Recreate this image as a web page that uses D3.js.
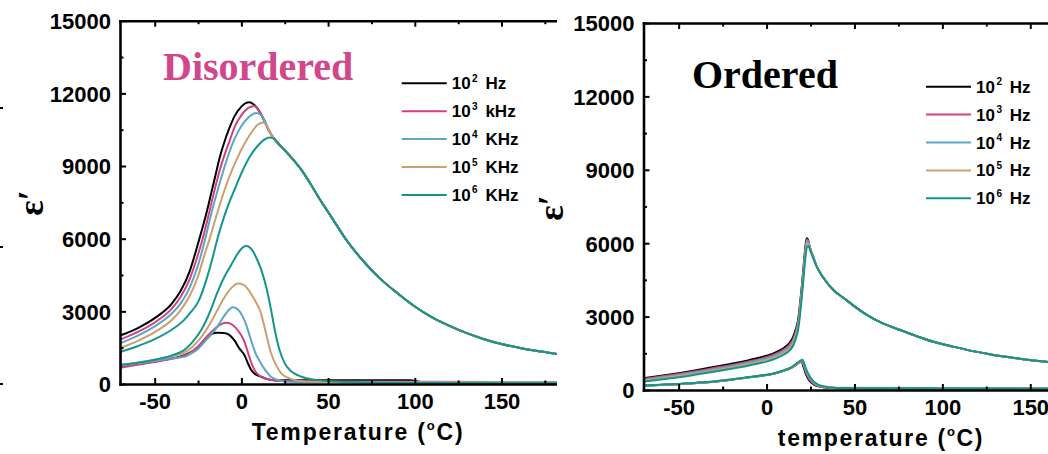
<!DOCTYPE html>
<html><head><meta charset="utf-8">
<script src="https://cdn.jsdelivr.net/npm/d3@7"></script>
<style>body{margin:0;background:#fff}svg{display:block}</style>
</head><body><svg id="c" width="1048" height="454"></svg>
<script>
// ---------------- DATA ----------------
const seriesColors = ["#000000", "#d2417f", "#5aa6c8", "#cc9f6c", "#14958a"];
const exponents = ["2", "3", "4", "5", "6"];
const unitsDisordered = ["Hz", "kHz", "KHz", "KHz", "KHz"];
const unitsOrdered = ["Hz", "Hz", "Hz", "Hz", "Hz"];
const xTicks = [-50, 0, 50, 100, 150];
const xMinorTicks = [-25, 25, 75, 125, 175];
const yTicks = [0, 3000, 6000, 9000, 12000, 15000];
const yMinorTicks = [1500, 4500, 7500, 10500, 13500];

// Disordered, upper (large) family: common tail read once
const disUpperTail = [[30,9250],[35,8800],[40,8250],[45,7650],[50,7100],[55,6550],[60,6000],[70,5100],[80,4350],[90,3750],[100,3200],[110,2750],[120,2400],[130,2100],[140,1850],[150,1650],[160,1500],[170,1370],[182,1240]];
const disUp1e2 = [[-70,2000],[-60,2300],[-50,2720],[-40,3330],[-35,3850],[-30,4620],[-25,5800],[-20,7100],[-17,8000],[-15,8600],[-12.5,9350],[-10,9950],[-7,10550],[-4,11050],[0,11450],[2.5,11600],[4.5,11630],[7,11550],[9,11400],[12,11050],[16,10450],[20,10020],[25,9650]];
const disUp1e3 = [[-70,1830],[-60,2140],[-50,2540],[-40,3120],[-35,3600],[-30,4300],[-25,5350],[-22.5,5950],[-20,6650],[-15.5,8000],[-12,8950],[-10,9400],[-7,10000],[-4,10600],[0,11100],[4,11400],[7.5,11480],[10,11300],[12,11050],[16,10450],[20,10020],[25,9650]];
const disUp1e4 = [[-70,1680],[-60,1990],[-50,2380],[-40,2920],[-35,3330],[-30,3950],[-25,4900],[-21,5950],[-17.5,7000],[-13.7,8000],[-10,8900],[-8,9350],[-5,9950],[-2,10400],[0,10650],[4,11000],[8.5,11190],[11,11120],[12.5,11000],[16,10450],[20,10020],[25,9650]];
const disUp1e5 = [[-70,1480],[-60,1770],[-50,2140],[-40,2650],[-35,3050],[-30,3620],[-28,3920],[-25,4450],[-21,5400],[-18.5,5950],[-15,6800],[-10,7950],[-5,8900],[-2,9380],[0,9680],[5,10300],[9,10680],[12.5,10800],[15,10620],[17,10330],[20,10020],[25,9650]];
const disUp1e6 = [[-70,1320],[-60,1560],[-50,1850],[-40,2250],[-33,2650],[-30,2900],[-25,3380],[-23.5,3620],[-20,4350],[-17,5100],[-14,5950],[-10,6900],[-7,7500],[-4,8020],[0,8700],[5,9400],[10,9880],[13,10080],[16,10180],[19,10120],[22,9880],[25,9650]];

// Disordered, lower (small) family
const disLo1e2 = [[-70,720],[-60,820],[-50,930],[-40,1060],[-35,1140],[-30,1280],[-25,1520],[-20,1870],[-17,2070],[-14,2120],[-10,2110],[-7,2030],[-4,1800],[-1,1450],[1.7,1200],[3.5,900],[5.5,600],[8,400],[11.3,300],[15,200],[20,140],[30,160],[50,160],[80,160],[97,150],[105,70],[182,50]];
const disLo1e3 = [[-70,670],[-60,790],[-50,910],[-40,1040],[-35,1120],[-30,1270],[-25,1550],[-20,1950],[-15,2300],[-12,2460],[-9,2530],[-6,2480],[-3,2300],[0,2000],[2,1700],[4,1250],[6,820],[8,530],[11,320],[15,200],[20,140],[30,110],[60,100],[182,80]];
const disLo1e4 = [[-70,760],[-60,850],[-50,950],[-40,1060],[-33,1120],[-30,1220],[-25,1450],[-20,1850],[-15,2250],[-10,2800],[-7,3080],[-5,3170],[-2,3080],[1,2750],[3,2400],[5.5,1820],[8,1300],[11.3,850],[14,550],[17,300],[20,190],[25,100],[30,80],[182,70]];
const disLo1e5 = [[-70,780],[-60,880],[-50,1000],[-40,1150],[-33,1300],[-28,1550],[-23,1950],[-18,2500],[-14,3030],[-10,3550],[-6,3950],[-2,4150],[1,4100],[4,3900],[7,3550],[11.3,2920],[14,2150],[17,1300],[20,780],[23,440],[27,250],[31,160],[40,100],[60,70],[182,60]];
const disLo1e6 = [[-70,800],[-60,880],[-50,1000],[-40,1180],[-33,1400],[-28,1750],[-23,2250],[-18,3000],[-14,3750],[-10,4400],[-6,4900],[-2,5400],[1,5650],[3,5700],[6,5550],[9,5150],[12,4600],[14.5,3950],[17,3100],[19.5,2150],[22,1400],[25,850],[28,570],[31,420],[37.5,240],[44,160],[55,100],[80,50],[182,30]];

// Ordered, upper family: common tail
const ordUpperTail = [[28.5,5050],[32,4620],[38,4090],[45,3700],[50,3420],[57,3070],[65,2760],[76,2450],[85,2210],[95,1970],[105,1790],[114,1640],[125,1490],[133,1390],[145,1270],[158,1160],[170,1080],[180,1010]];
const ordUp1e2 = [[-70,480],[-60,580],[-50,690],[-40,810],[-30,940],[-20,1070],[-10,1220],[0,1400],[5,1530],[10,1730],[13,1920],[15,2150],[16.5,2450],[18,2900],[19,3500],[20,4200],[21,5000],[22,5800],[22.8,6200],[23.5,6150],[24.5,5850],[26.5,5450]];
const ordUp1e3 = [[-70,450],[-60,550],[-50,655],[-40,770],[-30,895],[-20,1020],[-10,1170],[0,1340],[5,1470],[10,1660],[13,1840],[15,2060],[16.5,2350],[18,2800],[19,3400],[20,4100],[21,4900],[22,5700],[22.9,6150],[23.6,6100],[24.5,5850],[26.5,5450]];
const ordUp1e4 = [[-70,420],[-60,515],[-50,615],[-40,730],[-30,850],[-20,975],[-10,1120],[0,1290],[5,1410],[10,1600],[13,1770],[15,1980],[16.5,2260],[18,2700],[19,3300],[20,4000],[21,4800],[22,5600],[23,6100],[23.7,6050],[24.6,5820],[26.5,5450]];
const ordUp1e5 = [[-70,380],[-60,475],[-50,570],[-40,680],[-30,800],[-20,925],[-10,1065],[0,1230],[5,1350],[10,1530],[13,1700],[15,1900],[16.5,2170],[18,2600],[19,3200],[20,3900],[21,4700],[22,5500],[23,6000],[23.8,5980],[24.7,5780],[26.5,5430]];
const ordUp1e6 = [[-70,340],[-60,430],[-50,520],[-40,630],[-30,745],[-20,870],[-10,1005],[0,1160],[5,1280],[10,1450],[13,1610],[15,1800],[16.5,2070],[18,2480],[19,3050],[20,3750],[21,4550],[22,5350],[23,5850],[23.9,5900],[24.8,5720],[26.5,5400]];

// Ordered, lower family
const ordLo1e2 = [[-70,170],[-55,220],[-40,285],[-30,340],[-20,420],[-10,520],[0,610],[5,680],[10,790],[14,900],[17,1040],[19,1140],[20,1150],[21,950],[22,720],[23.5,480],[25,330],[27,220],[30,140],[35,90],[45,70],[180,60]];
const ordLo1e3 = [[-70,170],[-55,220],[-40,285],[-30,340],[-20,420],[-10,520],[0,610],[5,680],[10,790],[14,905],[17,1050],[19,1150],[20.2,1170],[21.2,980],[22.3,740],[23.8,500],[25.5,340],[27.5,225],[30.5,145],[36,95],[45,70],[180,60]];
const ordLo1e4 = [[-70,170],[-55,220],[-40,285],[-30,340],[-20,420],[-10,520],[0,615],[5,685],[10,795],[14,910],[17,1060],[19,1160],[20.4,1190],[21.4,1000],[22.6,770],[24.2,520],[26,350],[28,230],[31,150],[37,95],[45,70],[180,60]];
const ordLo1e5 = [[-70,175],[-55,225],[-40,290],[-30,345],[-20,425],[-10,525],[0,620],[5,690],[10,800],[14,915],[17,1070],[19,1170],[20.6,1200],[22,900],[24,600],[26,380],[29,220],[33,130],[40,90],[180,60]];
const ordLo1e6 = [[-70,180],[-55,230],[-40,295],[-30,350],[-20,430],[-10,530],[0,625],[5,695],[10,810],[14,925],[17,1080],[19,1190],[20.5,1240],[22,950],[24,620],[26,400],[29,230],[33,140],[40,80],[180,50]];

// ---------------- DRAW ----------------
const svg = d3.select("#c");
svg.append("rect").attr("width",1048).attr("height",454).attr("fill","#fff");
const FONT = "'Liberation Sans', Arial, sans-serif";
const SERIF = "'Liberation Serif', 'Times New Roman', serif";
const plainNum = d => String(d);

function panel(cfg) {
  const x = d3.scaleLinear().domain(cfg.xDomain).range(cfg.xRange);
  const y = d3.scaleLinear().domain([0, 15000]).range(cfg.yRange);
  const g = svg.append("g");
  const clipId = "clip" + cfg.id;
  svg.append("clipPath").attr("id", clipId).append("rect")
    .attr("x", cfg.xRange[0]).attr("y", cfg.yRange[1]-2)
    .attr("width", cfg.clipRight - cfg.xRange[0]).attr("height", cfg.yRange[0]-cfg.yRange[1]+4);
  const plot = g.append("g").attr("clip-path", `url(#${clipId})`);
  const line = d3.line().x(d => x(d[0])).y(d => y(d[1])).curve(d3.curveMonotoneX);
  const all = cfg.lower.concat(cfg.upper);
  const cols = seriesColors.concat(seriesColors);
  all.forEach((s, i) => {
    plot.append("path").attr("d", line(s)).attr("fill","none")
      .attr("stroke", cols[i]).attr("stroke-width", 2).attr("stroke-linejoin","round");
  });

  const axG = g.append("g").attr("clip-path", `url(#${clipId}b)`);
  svg.append("clipPath").attr("id", clipId + "b").append("rect")
    .attr("x", cfg.xRange[0]-60).attr("y", 0)
    .attr("width", cfg.clipRight - cfg.xRange[0] + 60).attr("height", 454);

  function styleAxis(sel, fs) {
    sel.selectAll(".domain").attr("stroke","#000").attr("stroke-width",2.6).attr("stroke-linecap","square");
    sel.selectAll(".tick line").attr("stroke","#000").attr("stroke-width",2);
    sel.selectAll("text").attr("font-family",FONT).attr("font-weight","bold").attr("font-size",fs).attr("fill","#000");
  }
  // bottom
  const b = axG.append("g").attr("transform",`translate(0,${cfg.yRange[0]})`)
    .call(d3.axisBottom(x).tickValues(xTicks).tickSizeInner(-6).tickSizeOuter(0).tickPadding(9.5).tickFormat(plainNum));
  styleAxis(b, 22);
  const bm = axG.append("g").attr("transform",`translate(0,${cfg.yRange[0]})`)
    .call(d3.axisBottom(x).tickValues(xMinorTicks).tickSizeInner(-3.5).tickSizeOuter(0).tickFormat(""));
  styleAxis(bm, 22); bm.select(".domain").remove();
  // top
  const t = axG.append("g").attr("transform",`translate(0,${cfg.yRange[1]})`)
    .call(d3.axisTop(x).tickValues(xTicks).tickSizeInner(-6).tickSizeOuter(0).tickFormat(""));
  styleAxis(t, 22);
  const tm = axG.append("g").attr("transform",`translate(0,${cfg.yRange[1]})`)
    .call(d3.axisTop(x).tickValues(xMinorTicks).tickSizeInner(-3.5).tickSizeOuter(0).tickFormat(""));
  styleAxis(tm, 22); tm.select(".domain").remove();
  // left
  const l = g.append("g").attr("transform",`translate(${cfg.xRange[0]},0)`)
    .call(d3.axisLeft(y).tickValues(yTicks).tickSizeInner(-6).tickSizeOuter(0).tickPadding(9).tickFormat(plainNum));
  styleAxis(l, 22);
  l.selectAll("text").attr("dy","0.36em");
  const lm = g.append("g").attr("transform",`translate(${cfg.xRange[0]},0)`)
    .call(d3.axisLeft(y).tickValues(yMinorTicks).tickSizeInner(-3.5).tickSizeOuter(0).tickFormat(""));
  styleAxis(lm, 22); lm.select(".domain").remove();

  // x label
  const xl = g.append("text").attr("x", cfg.xLabelX).attr("y", cfg.yRange[0] + 56)
    .attr("text-anchor","middle").attr("font-family",FONT).attr("font-weight","bold")
    .attr("font-size",23).attr("letter-spacing",cfg.ls).attr("fill","#000");
  xl.append("tspan").text(cfg.xLabel + " (");
  xl.append("tspan").attr("font-size",13).attr("dy",-10).text("o");
  xl.append("tspan").attr("dy",10).text("C)");

  // y label
  g.append("text").attr("transform",`translate(${cfg.yLabelX},${cfg.yLabelY}) rotate(-90)`)
    .attr("text-anchor","middle").attr("font-family",SERIF).attr("font-weight","bold").attr("font-size",36).attr("fill","#000")
    .text("\u03b5\u2032");

  // title
  g.append("text").attr("x", cfg.titleX).attr("y", cfg.titleY)
    .attr("font-family",SERIF).attr("font-weight","bold").attr("font-size",40)
    .attr("fill",cfg.titleColor).text(cfg.title);

  // legend
  const lg = g.append("g");
  exponents.forEach((e, i) => {
    const yy = cfg.legY + i * cfg.legStep;
    lg.append("line").attr("x1",cfg.legX).attr("x2",cfg.legX+45).attr("y1",yy).attr("y2",yy)
      .attr("stroke",seriesColors[i]).attr("stroke-width",2);
    const tx = lg.append("text").attr("x",cfg.legX+50).attr("y",yy+6)
      .attr("font-family",FONT).attr("font-weight","bold").attr("font-size",17).attr("fill","#000");
    tx.append("tspan").text("10");
    tx.append("tspan").attr("font-size",10).attr("dy",-7.5).attr("dx",1.5).text(e);
    tx.append("tspan").attr("dy",7.5).attr("dx",3).text(" " + cfg.units[i]);
  });
}

panel({
  id: "L", xDomain: [-70, 182], xRange: [120, 557], yRange: [384, 20.7], clipRight: 557,
  upper: [disUp1e2.concat(disUpperTail), disUp1e3.concat(disUpperTail), disUp1e4.concat(disUpperTail), disUp1e5.concat(disUpperTail), disUp1e6.concat(disUpperTail)],
  lower: [disLo1e2, disLo1e3, disLo1e4, disLo1e5, disLo1e6],
  xLabel: "Temperature", xLabelX: 358, ls: 1.8,
  yLabelX: 43, yLabelY: 203,
  title: "Disordered", titleX: 163, titleY: 80, titleColor: "#d0478b",
  legX: 401.7, legY: 83.3, legStep: 27.9, units: unitsDisordered
});
panel({
  id: "R", xDomain: [-70, 180], xRange: [643.5, 1083], yRange: [390, 23], clipRight: 1048,
  upper: [ordUp1e2.concat(ordUpperTail), ordUp1e3.concat(ordUpperTail), ordUp1e4.concat(ordUpperTail), ordUp1e5.concat(ordUpperTail), ordUp1e6.concat(ordUpperTail)],
  lower: [ordLo1e2, ordLo1e3, ordLo1e4, ordLo1e5, ordLo1e6],
  xLabel: "temperature", xLabelX: 881, ls: 1.7,
  yLabelX: 563, yLabelY: 208,
  title: "Ordered", titleX: 692, titleY: 88, titleColor: "#000",
  legX: 926, legY: 86.7, legStep: 27.9, units: unitsOrdered
});

// fragments of a neighbouring panel's ticks at the far left edge
[108, 247, 384].forEach(yy => {
  svg.append("line").attr("x1",0).attr("x2",3).attr("y1",yy).attr("y2",yy).attr("stroke","#000").attr("stroke-width",2);
});
</script></body></html>
